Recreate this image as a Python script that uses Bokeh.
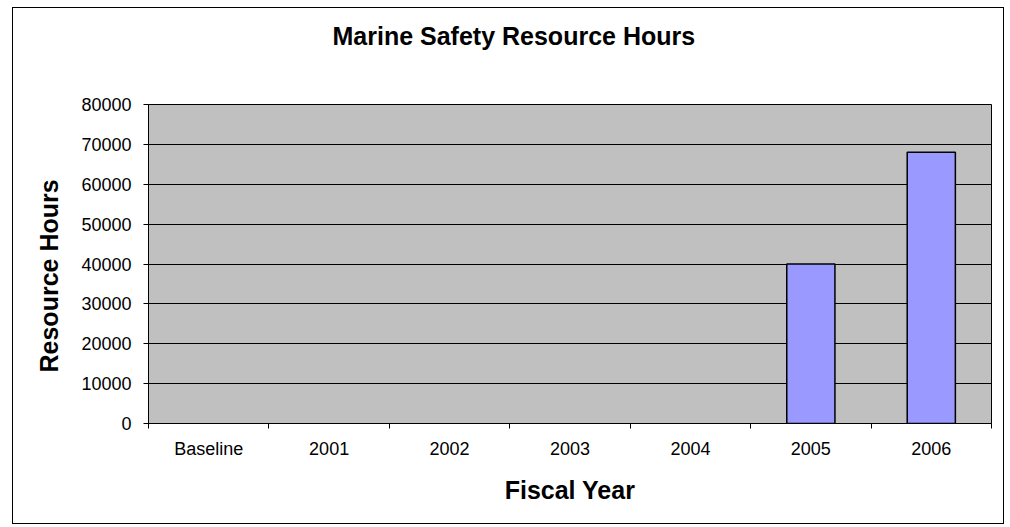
from bokeh.plotting import figure
from bokeh.models import Range1d, FixedTicker, Title
from bokeh.embed import file_html
from bokeh.resources import INLINE

categories = ["Baseline", "2001", "2002", "2003", "2004", "2005", "2006"]
hours = [0, 0, 0, 0, 0, 40000, 68000]
y_ticks = [0, 10000, 20000, 30000, 40000, 50000, 60000, 70000, 80000]
title_text = "Marine Safety Resource Hours"
x_title = "Fiscal Year"
y_title = "Resource Hours"

FONT = "Liberation Sans"

x_pos = [i + 0.5 for i in range(len(categories))]
# draw only non-zero bars (zero bars are invisible in the reference)
bar_x = [x for x, h in zip(x_pos, hours) if h > 0]
bar_top = [h for h in hours if h > 0]

p = figure(width=992, height=517, output_backend="svg", toolbar_location=None,
           x_range=Range1d(0, len(categories)), y_range=Range1d(0, 80000),
           min_border_left=135, min_border_right=14, min_border_top=96, min_border_bottom=102)
p.styles = {"border": "1px solid black", "margin-left": "12px", "margin-top": "7px"}
p.background_fill_color = "#C0C0C0"
p.border_fill_color = "white"
p.outline_line_color = "black"
p.outline_line_width = 1

p.vbar(x=bar_x, top=bar_top, bottom=0, width=0.4, fill_color="#9999FF",
       line_color="black", line_width=1.5)

# spacer between plot area and chart title
p.add_layout(Title(text=" ", text_font=FONT, text_font_size="10px", standoff=42), "above")

# chart title
p.title.text = title_text
p.title.text_font = FONT
p.title.text_font_size = "25px"
p.title.text_font_style = "bold"
p.title.text_color = "black"
p.title.align = "left"
p.title.offset = 184
p.title.standoff = 0

# y axis title as a side title
p.add_layout(Title(text=y_title, text_font=FONT, text_font_size="25px",
                   text_font_style="bold", text_color="black",
                   align="left", offset=51, standoff=32), "left")

# x axis
xa = p.xaxis[0]
xa.ticker = FixedTicker(ticks=x_pos, minor_ticks=list(range(len(categories) + 1)))
xa.major_label_overrides = {x: c for x, c in zip(x_pos, categories)}
xa.major_tick_line_color = None
xa.major_tick_out = 0
xa.major_tick_in = 0
xa.minor_tick_line_color = "black"
xa.minor_tick_out = 5
xa.minor_tick_in = 0
xa.major_label_standoff = 10
xa.major_label_text_font = FONT
xa.major_label_text_font_size = "18px"
xa.major_label_text_color = "black"
xa.axis_line_color = "black"
xa.axis_label = x_title
xa.axis_label_text_font = FONT
xa.axis_label_text_font_size = "25px"
xa.axis_label_text_font_style = "bold"
xa.axis_label_text_color = "black"
xa.axis_label_standoff = 14

# y axis
ya = p.yaxis[0]
ya.ticker = FixedTicker(ticks=y_ticks)
ya.major_tick_out = 5
ya.major_tick_in = 0
ya.major_tick_line_color = "black"
ya.minor_tick_line_color = None
ya.major_label_standoff = 12
ya.major_label_text_font = FONT
ya.major_label_text_font_size = "18px"
ya.major_label_text_color = "black"
ya.axis_line_color = "black"

p.xgrid.grid_line_color = None
p.ygrid.grid_line_color = "black"
p.ygrid.grid_line_width = 1

open("out.html", "w").write(file_html(p, INLINE))
